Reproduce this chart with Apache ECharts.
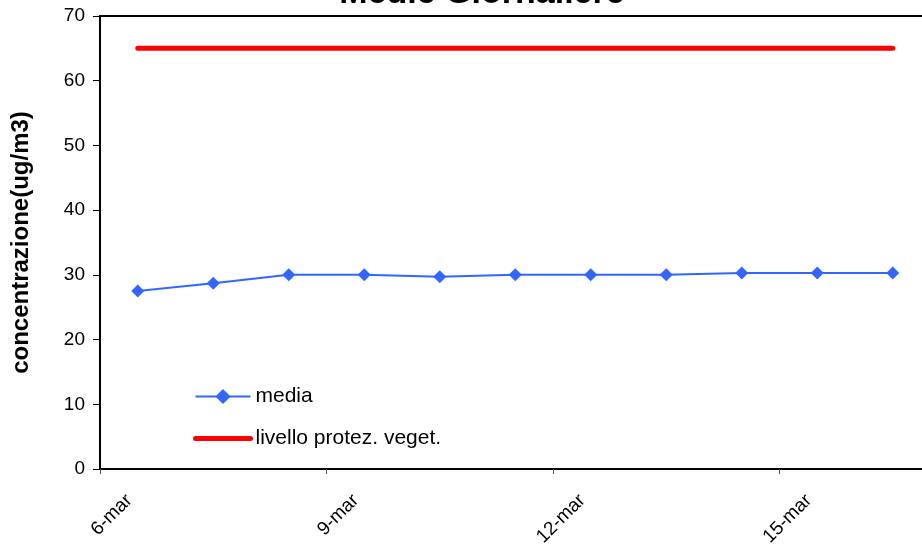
<!DOCTYPE html>
<html>
<head>
<meta charset="utf-8">
<script src="https://cdn.jsdelivr.net/npm/echarts@6/dist/echarts.min.js"></script>
<style>
html,body{margin:0;padding:0;background:#fff;}
#c{width:922px;height:552px;}
</style>
</head>
<body>
<div id="c"></div>
<script>
const categories = ['6-mar','7-mar','8-mar','9-mar','10-mar','11-mar','12-mar','13-mar','14-mar','15-mar','16-mar'];
const media = [27.5, 28.7, 30.0, 30.0, 29.7, 30.0, 30.0, 30.0, 30.3, 30.3, 30.3];
const livello = [65, 65, 65, 65, 65, 65, 65, 65, 65, 65, 65];
const yTicks = [0, 10, 20, 30, 40, 50, 60, 70];

const FONT = '"Liberation Sans", Arial, sans-serif';
const chart = echarts.init(document.getElementById('c'), null, {renderer: 'canvas'});
chart.setOption({
  animation: false,
  backgroundColor: '#ffffff',
  title: {
    text: 'Medie Giornaliere',
    left: 477,
    textAlign: 'center',
    top: -28,
    textStyle: {fontFamily: FONT, fontSize: 34, fontWeight: 'bold', color: '#000'}
  },
  grid: {
    left: 100, top: 16, width: 830.5, height: 453,
    outerBoundsMode: 'none', containLabel: false,
    show: true, borderColor: '#000', borderWidth: 2, backgroundColor: 'transparent'
  },
  legend: {
    orient: 'vertical',
    left: 193, top: 386, padding: 0,
    itemWidth: 55, itemHeight: 19, itemGap: 21,
    textStyle: {fontFamily: FONT, fontSize: 21, color: '#000', lineHeight: 20},
    data: [
      {name: 'media'},
      {name: 'livello protez. veget.', itemStyle: {opacity: 0}, lineStyle: {width: 5, cap: 'round', color: '#FF0000'}}
    ]
  },
  xAxis: {
    type: 'category',
    data: categories,
    boundaryGap: true,
    axisLine: {lineStyle: {color: '#000', width: 2}},
    axisTick: {show: true, interval: 2, length: 5, lineStyle: {color: '#555', width: 1}},
    axisLabel: {interval: 2, rotate: 45, margin: 20, padding: [0, 12, 0, 0], fontFamily: FONT, fontSize: 19, color: '#000'},
    splitLine: {show: false}
  },
  yAxis: {
    type: 'value',
    min: yTicks[0], max: yTicks[yTicks.length - 1], interval: 10,
    name: 'concentrazione(ug/m3)',
    nameLocation: 'middle',
    nameGap: 67,
    nameTextStyle: {fontFamily: FONT, fontSize: 24, fontWeight: 'bold', color: '#000'},
    axisLine: {show: true, lineStyle: {color: '#000', width: 2}},
    axisTick: {show: true, length: 7, lineStyle: {color: '#000', width: 1}},
    axisLabel: {margin: 15, fontFamily: FONT, fontSize: 19, color: '#000'},
    splitLine: {show: false}
  },
  series: [
    {
      name: 'media', type: 'line', data: media,
      symbol: 'diamond', symbolSize: 13,
      lineStyle: {color: '#3366FF', width: 2},
      itemStyle: {color: '#3366FF'},
      z: 3
    },
    {
      name: 'livello protez. veget.', type: 'line', data: livello,
      symbol: 'none', showSymbol: false,
      lineStyle: {color: '#FF0000', width: 5, cap: 'round'},
      itemStyle: {color: '#FF0000'},
      z: 2
    }
  ]
});
</script>
</body>
</html>
